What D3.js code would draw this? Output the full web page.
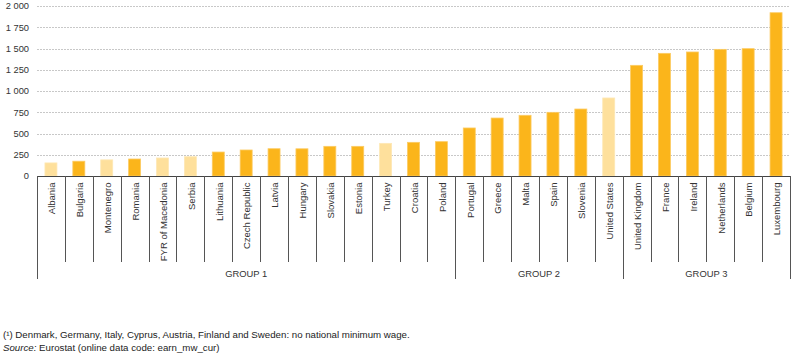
<!DOCTYPE html>
<html><head><meta charset="utf-8">
<script src="https://cdn.jsdelivr.net/npm/d3@7"></script>
<style>body{margin:0;background:#fff;}svg{display:block;font-family:"Liberation Sans",Arial,sans-serif;}</style>
</head><body><svg id="c" width="800" height="355"></svg>
<script>
const categories = ["Albania","Bulgaria","Montenegro","Romania","FYR of Macedonia","Serbia","Lithuania","Czech Republic","Latvia","Hungary","Slovakia","Estonia","Turkey","Croatia","Poland","Portugal","Greece","Malta","Spain","Slovenia","United States","United Kingdom","France","Ireland","Netherlands","Belgium","Luxembourg"];
const values = [154,174,190,200,212,227,282,306,321,320,349,349,384,396,404,565,682,714,749,788,918,1302,1443,1459,1490,1498,1921];
const nonEU = ["Albania","Montenegro","FYR of Macedonia","Serbia","Turkey","United States"];
const groups = [{name:"GROUP 1",from:"Albania",to:"Poland"},{name:"GROUP 2",from:"Portugal",to:"United States"},{name:"GROUP 3",from:"United Kingdom",to:"Luxembourg"}];
const yTicks = [0,250,500,750,1000,1250,1500,1750,2000];
const footnote = "(\u00B9) Denmark, Germany, Italy, Cyprus, Austria, Finland and Sweden: no national minimum wage.";

const svg = d3.select("#c");
const L=37,R=790,T=6,B=176;
const x = d3.scaleBand().domain(categories).range([L,R]).paddingInner(0.57).paddingOuter(0.285);
const xs = d3.scaleBand().domain(categories).range([L,R]);
const y = d3.scaleLinear().domain([0,2000]).range([B,T]);
const fmt = v => d3.format(",")(v).replace(/,/g," ");

// gridlines
svg.append("g").selectAll("line").data(yTicks.filter(d=>d>0)).join("line")
  .attr("x1",L).attr("x2",R).attr("y1",d=>Math.round(y(d))+0.5).attr("y2",d=>Math.round(y(d))+0.5)
  .attr("stroke","#c8c8c8").attr("stroke-dasharray","2,1").attr("stroke-width",1);
// y labels
svg.append("g").selectAll("text").data(yTicks).join("text")
  .attr("x",29).attr("y",d=>y(d)).attr("dy","0.35em").attr("text-anchor","end")
  .attr("font-size","9.3px").attr("fill","#333").text(fmt);
// bars
svg.append("g").selectAll("rect").data(categories).join("rect")
  .attr("x",d=>x(d)).attr("width",x.bandwidth())
  .attr("y",(d,i)=>y(values[i])).attr("height",(d,i)=>B-y(values[i]))
  .attr("fill",d=>nonEU.includes(d)?"#FEE09C":"#FBB51B")
  .attr("stroke",d=>nonEU.includes(d)?"#FEE8B5":"#FCCB63").attr("stroke-width",0.8);
// baseline
svg.append("line").attr("x1",L).attr("x2",R).attr("y1",B+0.5).attr("y2",B+0.5).attr("stroke","#444");
// category separators
const seps = categories.map(c=>xs(c)+xs.bandwidth()).slice(0,-1);
const groupEdges = [L].concat(groups.map(g=>xs(g.to)+xs.bandwidth()));
svg.append("g").selectAll("line").data(seps).join("line")
  .attr("x1",d=>Math.round(d)+0.5).attr("x2",d=>Math.round(d)+0.5).attr("y1",B).attr("y2",262)
  .attr("stroke","#555");
svg.append("g").selectAll("line").data(groupEdges).join("line")
  .attr("x1",d=>Math.round(d)+0.5).attr("x2",d=>Math.round(d)+0.5).attr("y1",B).attr("y2",279)
  .attr("stroke","#555");
// category labels
svg.append("g").selectAll("text").data(categories).join("text")
  .attr("transform",d=>`translate(${xs(d)+xs.bandwidth()/2+4.3},${182.5}) rotate(-90)`)
  .attr("text-anchor","end").attr("font-size","9.5px").attr("fill","#333").text(d=>d);
// group labels
svg.append("g").selectAll("text").data(groups).join("text")
  .attr("x",g=>(xs(g.from)+xs(g.to)+xs.bandwidth())/2).attr("y",277)
  .attr("text-anchor","middle").attr("font-size","9.4px").attr("fill","#333").text(g=>g.name);
// footnotes
svg.append("text").attr("x",3).attr("y",338).attr("font-size","9.7px").attr("fill","#222").text(footnote);
const s = svg.append("text").attr("x",3).attr("y",350.5).attr("font-size","9.7px").attr("fill","#222");
s.append("tspan").attr("font-style","italic").text("Source:");
s.append("tspan").text(" Eurostat (online data code: earn_mw_cur)");
</script></body></html>
